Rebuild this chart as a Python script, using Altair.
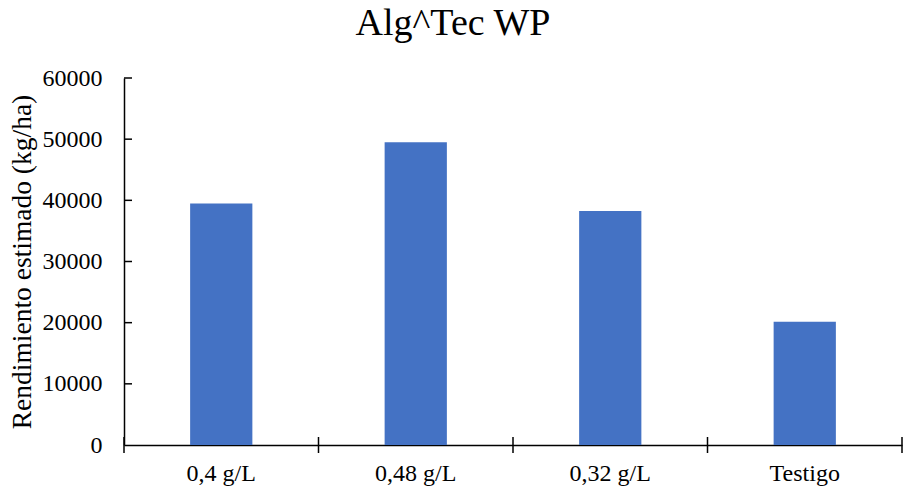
import altair as alt
import pandas as pd

categories = ["0,4 g/L", "0,48 g/L", "0,32 g/L", "Testigo"]
values = [39500, 49500, 38250, 20150]
y_ticks = [0, 10000, 20000, 30000, 40000, 50000, 60000]

df = pd.DataFrame({"cat": categories, "val": values})
df_yt = pd.DataFrame({"val": y_ticks[1:]})
df_xt = pd.DataFrame({"cat": categories})
df_xend = pd.DataFrame({"cat": categories[-1:]})

FONT = "Liberation Serif"
BAR = "#4472C4"
Y_TITLE = "Rendimiento estimado (kg/ha)"

x_scale = alt.Scale(paddingInner=0, paddingOuter=0)
y_scale = alt.Scale(domain=[0, 60000])

x_axis = alt.Axis(orient="bottom", domain=True, domainColor="black", domainWidth=1.5,
                  ticks=False, tickSize=0, labelAngle=0, labelFont=FONT,
                  labelFontSize=24, labelColor="black", labelPadding=16, grid=False)
y_axis = alt.Axis(orient="left", values=y_ticks, format="d", domain=True,
                  domainColor="black", domainWidth=1.5, ticks=False, tickSize=0,
                  labelFont=FONT, labelFontSize=24, labelColor="black",
                  labelPadding=22, titleFont=FONT, titleFontSize=27.5,
                  titleFontWeight="normal", titleColor="black", titlePadding=6,
                  grid=False)

bars = alt.Chart(df).mark_bar(color=BAR, width=alt.RelativeBandSize(0.32)).encode(
    x=alt.X("cat:N", sort=categories, scale=x_scale, title=None, axis=x_axis),
    y=alt.Y("val:Q", scale=y_scale, title=Y_TITLE, axis=y_axis),
)

y_tick_rules = alt.Chart(df_yt).mark_rule(color="black", strokeWidth=1.5).encode(
    y=alt.Y("val:Q", scale=y_scale, title=Y_TITLE, axis=y_axis),
    x=alt.value(0),
    x2=alt.value(8),
)

x_tick_rules = alt.Chart(df_xt).mark_rule(color="black", strokeWidth=1.5).encode(
    x=alt.X("cat:N", sort=categories, scale=x_scale, bandPosition=0, title=None, axis=x_axis),
    y=alt.value(359),
    y2=alt.value(375),
)

x_end_rule = alt.Chart(df_xend).mark_rule(color="black", strokeWidth=1.5).encode(
    x=alt.X("cat:N", sort=categories, scale=x_scale, bandPosition=1, title=None, axis=x_axis),
    y=alt.value(359),
    y2=alt.value(375),
)

chart = alt.layer(bars, y_tick_rules, x_tick_rules, x_end_rule).properties(
    width=778,
    height=367,
    autosize=alt.AutoSizeParams(type="none"),
    padding={"left": 124, "top": 78, "right": 4, "bottom": 48},
    title=alt.TitleParams("Alg^Tec WP", font=FONT, fontSize=38, fontWeight="normal",
                          color="black", anchor="middle", dx=-60, dy=37, offset=30,
                          baseline="alphabetic"),
).configure(background="white", font=FONT).configure_axis(
    labelFont=FONT, titleFont=FONT
).configure_view(stroke=None)

chart.save("out.html", embed_options={"renderer": "svg", "actions": False})
